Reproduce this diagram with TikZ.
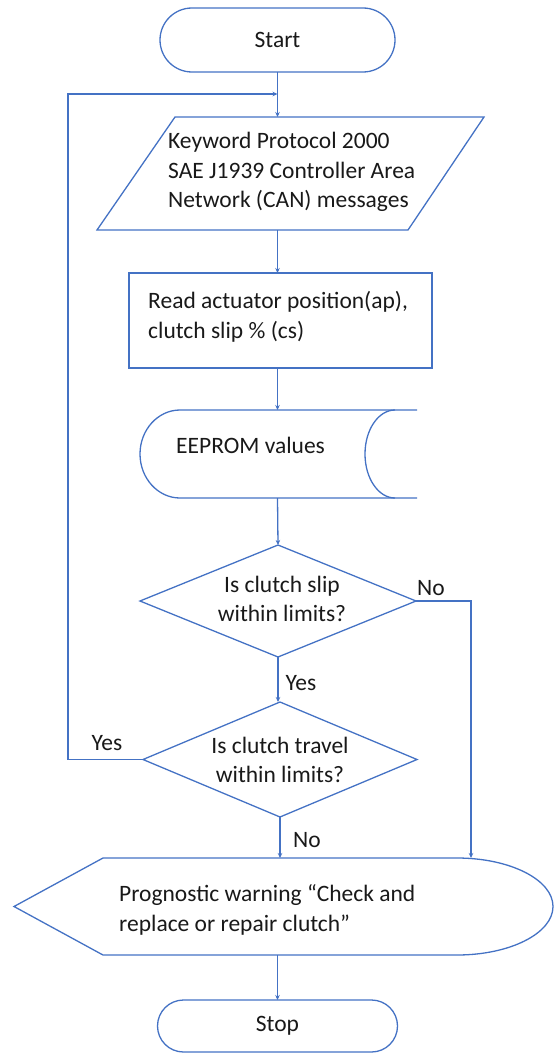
\documentclass[tikz,border=0pt]{standalone}
\usepackage{fontspec}
\setmainfont{Carlito}
\usetikzlibrary{arrows.meta,calc}
\definecolor{lineblue}{HTML}{4472C4}
\begin{document}
\begin{tikzpicture}[x=1pt,y=-1pt,
  outline/.style={draw=lineblue,line width=1.3pt},
  flow/.style={draw=lineblue,line width=1.3pt,-{Stealth[length=5pt,width=4.5pt]}},
  txt/.style={font=\fontsize{23.5}{29.5}\selectfont,text=black!90,align=left,inner sep=0pt},
  lbl/.style={font=\fontsize{23.5}{29.5}\selectfont,text=black!90,inner sep=0pt},
  box/.style={inner sep=0pt,outer sep=0pt}]
\useasboundingbox (0,0) rectangle (555,1057);

% terminators
\node[outline,box,lbl,rounded corners=32pt,minimum width=235pt,minimum height=64pt] (start) at (277.5,40) {Start};
\node[outline,box,lbl,rounded corners=26pt,minimum width=240pt,minimum height=52pt] (stop) at (277.5,1026) {Stop};

% input / output parallelogram
\node[box,minimum width=387pt,minimum height=113pt] (input) at (290.5,173.5) {};
\draw[outline] (input.south west) -- ($(input.north west)+(78,0)$) -- (input.north east)
  -- ($(input.south east)+(-76,0)$) -- cycle;
\node[txt,anchor=west] (inputtext) at (168,172) {Keyword Protocol 2000\\SAE J1939 Controller Area\\Network (CAN) messages};

% process box
\node[outline,box,minimum width=303pt,minimum height=95pt] (read) at (280.5,320.5) {};
\node[txt,anchor=west] (readtext) at (148,317) {Read actuator position(ap),\\clutch slip \% (cs)};

% stored data
\node[box,minimum width=277pt,minimum height=88pt] (eeprom) at (278.5,454) {};
\draw[outline] (417,410) -- (180,410)
  .. controls (158,410) and (140,429.7) .. (140,454)
  .. controls (140,478.3) and (158,498) .. (180,498) -- (417,498);
\draw[outline] (395,410) .. controls (378.4,410) and (365,429.7) .. (365,454)
  .. controls (365,478.3) and (378.4,498) .. (395,498);
\node[lbl,anchor=west] (eepromtext) at (176,445) {EEPROM values};

% decisions
\node[box,minimum width=276pt,minimum height=112pt] (d1) at (278,601) {};
\draw[outline] (d1.west) -- (d1.north) -- (d1.east) -- (d1.south) -- cycle;
\node[lbl,align=center] (d1text) at (282,599) {Is clutch slip\\within limits?};

\node[box,minimum width=274pt,minimum height=115pt] (d2) at (280,759.5) {};
\draw[outline] (d2.west) -- (d2.north) -- (d2.east) -- (d2.south) -- cycle;
\node[lbl,align=center] (d2text) at (280,760) {Is clutch travel\\within limits?};

% display
\node[box,minimum width=539pt,minimum height=97pt] (warn) at (283.5,906.5) {};
\draw[outline] (warn.west) -- (103,858) -- (457,858)
  .. controls (510,858) and (553,879.7) .. (553,906.5)
  .. controls (553,933.3) and (510,955) .. (457,955) -- (103,955) -- cycle;
\node[txt,anchor=west] (warntext) at (119,910) {Prognostic warning “Check and\\replace or repair clutch”};

% connectors
\coordinate (loopc) at (68,94);
\coordinate (nocol) at (471,601);
\draw[flow] (start.south) -- (start.south |- input.north);
\draw[flow] (start.south |- input.south) -- (start.south |- read.north);
\draw[flow] (start.south |- read.south) -- (start.south |- eeprom.north);
\draw[flow] (start.south |- eeprom.south) -- (d1.north);
\draw[flow] (d1.south) -- (d1.south |- d2.north);
\draw[flow] (d2.south) -- (d2.south |- warn.north);
\draw[flow] (stop.north |- warn.south) -- (stop.north);
\draw[flow] (d2.west) -- (d2.west -| loopc) -- (loopc) -- (loopc -| start.south);
\draw[flow] (d1.east) -- (nocol) -- (nocol |- warn.north);

% branch labels
\node[lbl] (no1) at (431,588) {No};
\node[lbl] (yes1) at (301,683) {Yes};
\node[lbl] (yes2) at (107,743) {Yes};
\node[lbl] (no2) at (307,840) {No};
\end{tikzpicture}
\end{document}
